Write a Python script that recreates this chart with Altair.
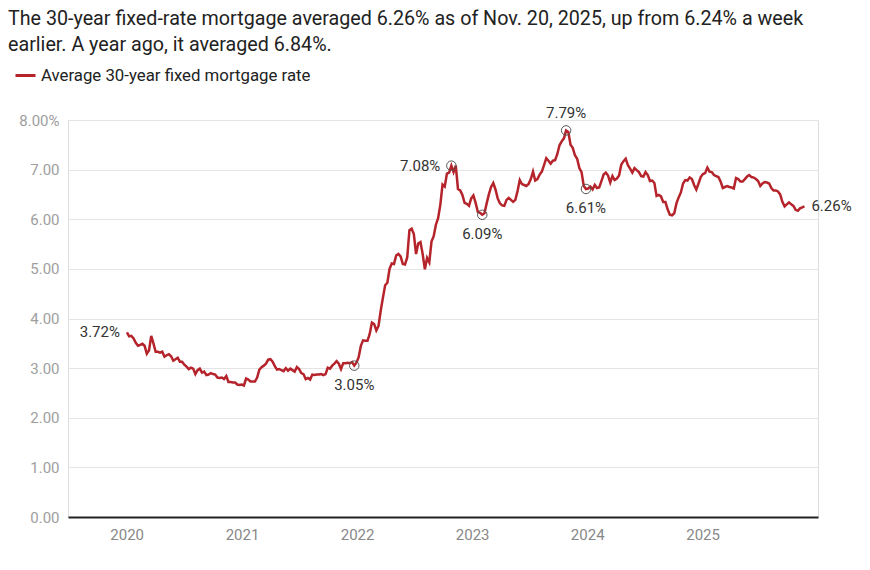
import altair as alt
import pandas as pd

# Weekly average 30-year fixed mortgage rate (%), first Thursday of 2020 through Nov. 20, 2025
rates_2020 = [3.72, 3.64, 3.65, 3.60, 3.51, 3.45, 3.47, 3.49, 3.45, 3.29, 3.36, 3.65, 3.50,
              3.33, 3.33, 3.31, 3.33, 3.23, 3.26, 3.28, 3.24, 3.15, 3.18, 3.21, 3.13, 3.13,
              3.07, 3.03, 2.98, 3.01, 2.99, 2.88, 2.96, 2.99, 2.91, 2.93, 2.86, 2.87, 2.90,
              2.88, 2.87, 2.81, 2.80, 2.81, 2.78, 2.84, 2.72, 2.72, 2.71, 2.71, 2.67, 2.66, 2.67]
rates_2021 = [2.65, 2.79, 2.77, 2.73, 2.73, 2.73, 2.81, 2.97, 3.02, 3.05, 3.09, 3.17,
              3.18, 3.13, 3.04, 2.97, 2.98, 2.96, 2.94, 3.00, 2.95, 2.99, 2.96, 2.93, 3.02,
              2.98, 2.90, 2.88, 2.78, 2.80, 2.77, 2.87, 2.86, 2.87, 2.87, 2.88, 2.86, 2.88, 3.01,
              2.99, 3.05, 3.09, 3.14, 3.09, 2.98, 3.10, 3.10, 3.11, 3.10, 3.12, 3.05, 3.11]
rates_2022 = [3.22, 3.45, 3.56, 3.55, 3.55, 3.69, 3.92, 3.89, 3.76, 3.85, 4.16, 4.42, 4.67,
              4.72, 5.00, 5.11, 5.10, 5.27, 5.30, 5.25, 5.10, 5.09, 5.23, 5.78, 5.81, 5.70,
              5.30, 5.51, 5.54, 5.30, 4.99, 5.22, 5.13, 5.55, 5.66, 5.89, 6.02, 6.29, 6.70,
              6.66, 6.92, 6.94, 7.08, 6.95, 7.08, 6.61, 6.58, 6.49, 6.33, 6.31, 6.27, 6.42]
rates_2023 = [6.48, 6.33, 6.15, 6.13, 6.09, 6.12, 6.32, 6.50, 6.65, 6.73, 6.60, 6.42, 6.32,
              6.28, 6.27, 6.39, 6.43, 6.39, 6.35, 6.39, 6.57, 6.79, 6.71, 6.69, 6.67, 6.71,
              6.81, 6.96, 6.78, 6.81, 6.90, 6.96, 7.09, 7.23, 7.18, 7.12, 7.18, 7.19, 7.31,
              7.49, 7.57, 7.63, 7.79, 7.76, 7.50, 7.44, 7.29, 7.22, 7.03, 6.95, 6.67, 6.61]
rates_2024 = [6.62, 6.66, 6.60, 6.69, 6.63, 6.64, 6.77, 6.90, 6.94, 6.88, 6.74, 6.87, 6.79,
              6.82, 6.88, 7.10, 7.17, 7.22, 7.09, 7.02, 6.94, 7.03, 6.99, 6.95, 6.87, 6.86,
              6.95, 6.89, 6.77, 6.78, 6.73, 6.47, 6.49, 6.46, 6.35, 6.35, 6.20, 6.09, 6.08,
              6.12, 6.32, 6.44, 6.54, 6.72, 6.79, 6.78, 6.84, 6.81, 6.69, 6.60, 6.72, 6.85]
rates_2025 = [6.91, 6.93, 7.04, 6.96, 6.95, 6.89, 6.87, 6.85, 6.76, 6.63, 6.65, 6.67, 6.65,
              6.64, 6.62, 6.83, 6.81, 6.76, 6.76, 6.81, 6.86, 6.89, 6.85, 6.84, 6.81, 6.77,
              6.67, 6.72, 6.75, 6.74, 6.72, 6.63, 6.58, 6.58, 6.56, 6.50, 6.35, 6.26, 6.30,
              6.34, 6.30, 6.27, 6.19, 6.17, 6.22, 6.24, 6.26]

series_name = "Average 30-year fixed mortgage rate"
year_ticks = ["2020-01-01", "2021-01-01", "2022-01-01", "2023-01-01", "2024-01-01", "2025-01-01"]
y_ticks = [0, 1, 2, 3, 4, 5, 6, 7, 8]

# Annotated points
ann_dates = ["2020-01-02", "2021-12-23", "2022-10-27", "2023-02-02", "2023-10-26", "2023-12-28", "2025-11-20"]
ann_values = [3.72, 3.05, 7.08, 6.09, 7.79, 6.61, 6.26]
ann_labels = ["3.72%", "3.05%", "7.08%", "6.09%", "7.79%", "6.61%", "6.26%"]

title_lines = [
    "The 30-year fixed-rate mortgage averaged 6.26% as of Nov. 20, 2025, up from 6.24% a week",
    "earlier. A year ago, it averaged 6.84%.",
]

rates = rates_2020 + rates_2021 + rates_2022 + rates_2023 + rates_2024 + rates_2025
dates = pd.date_range("2020-01-02", periods=len(rates), freq="7D")
df = pd.DataFrame({"date": dates, "rate": rates, "series": series_name})
ann = pd.DataFrame({"date": pd.to_datetime(ann_dates), "rate": ann_values, "label": ann_labels})

FONT = "Roboto"
RED = "#b5232b"

x_scale = alt.Scale(domain=[pd.Timestamp("2019-06-29").isoformat(), pd.Timestamp("2026-01-02").isoformat()])
y_scale = alt.Scale(domain=[0, 8], nice=False)

x_enc = alt.X("date:T", scale=x_scale, title=None,
              axis=alt.Axis(values=[pd.Timestamp(d).isoformat() for d in year_ticks], format="%Y",
                            grid=False, ticks=False, domain=True, domainColor="#222",
                            domainWidth=2, labelFont=FONT, labelFontSize=15,
                            labelColor="#888", labelPadding=10))
y_enc = alt.Y("rate:Q", scale=y_scale, title=None,
              axis=alt.Axis(values=y_ticks, grid=True, gridColor="#e4e4e4", gridWidth=1,
                            ticks=False, domain=False, labelFont=FONT, labelFontSize=15,
                            labelColor="#9e9e9e", labelPadding=9,
                            labelExpr="datum.value == 8 ? format(datum.value, '.2f') + '%' : format(datum.value, '.2f')"))

line = alt.Chart(df).mark_line(strokeWidth=2.5, interpolate="linear").encode(
    x=x_enc, y=y_enc,
    color=alt.Color("series:N", scale=alt.Scale(domain=[series_name], range=[RED]),
                    legend=alt.Legend(title=None, orient="none", legendX=-54, legendY=-56,
                                      symbolType="stroke", symbolStrokeWidth=3, symbolSize=400,
                                      labelFont=FONT, labelFontSize=16.8, labelColor="#222",
                                      labelOffset=4, labelLimit=0)),
)

circle_labels = ["3.05%", "7.08%", "6.09%", "7.79%", "6.61%"]
circles = alt.Chart(ann).mark_point(shape="circle", size=90, filled=False, stroke="#555",
                                    strokeWidth=1, opacity=1).encode(
    x="date:T", y="rate:Q").transform_filter(alt.FieldOneOfPredicate(field="label", oneOf=circle_labels))

def text_layer(labels, **kw):
    return alt.Chart(ann).mark_text(font=FONT, fontSize=15, color="#333", **kw).encode(
        x="date:T", y="rate:Q", text="label:N").transform_filter(
        alt.FieldOneOfPredicate(field="label", oneOf=labels))

below = text_layer(["3.05%", "6.09%", "6.61%"], align="center", baseline="middle", dy=19)
above = text_layer(["7.79%"], align="center", baseline="middle", dy=-17)
left_l = text_layer(["7.08%"], align="right", baseline="middle", dx=-11)
left_s = text_layer(["3.72%"], align="right", baseline="middle", dx=-7)
right = text_layer(["6.26%"], align="left", baseline="middle", dx=7)

chart = alt.layer(line, circles, below, above, left_l, left_s, right).properties(
    width=750, height=397,
    padding={"left": 0, "top": 1, "right": 0, "bottom": 0},
    title=alt.TitleParams(text=title_lines, anchor="start", frame="group", dx=-60,
                          font=FONT, fontSize=19.7, fontWeight="normal", color="#222",
                          lineHeight=26, offset=9),
).configure_view(stroke=None).configure(background="white")

chart.save("out.html", embed_options={"renderer": "svg", "actions": False})
